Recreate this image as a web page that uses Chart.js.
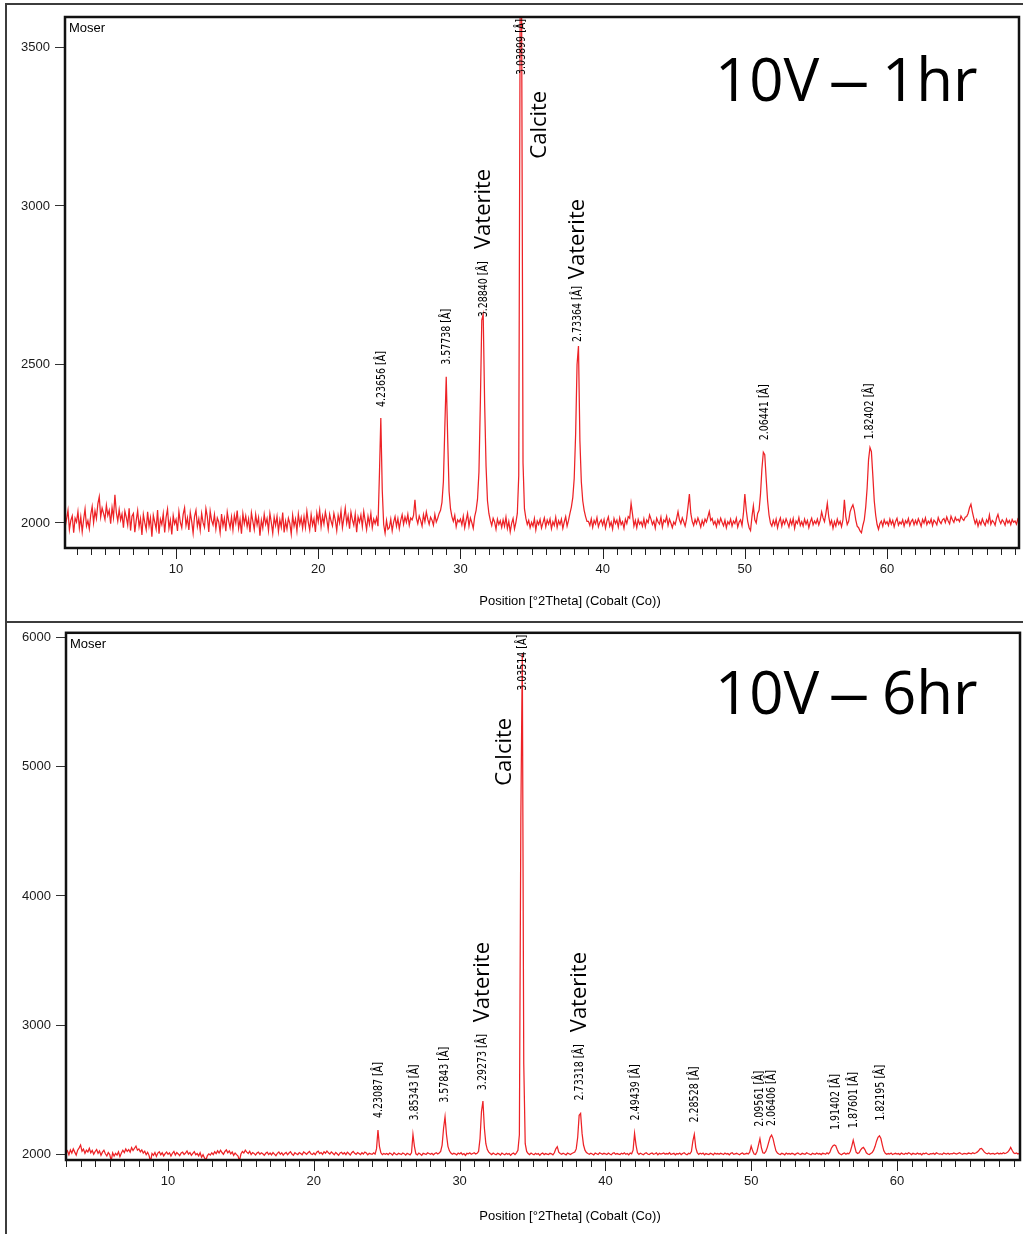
<!DOCTYPE html>
<html>
<head>
<meta charset="utf-8">
<script src="https://cdn.jsdelivr.net/npm/chart.js@4.4.1/dist/chart.umd.min.js"></script>
<style>
html,body{margin:0;padding:0;background:#fff;}
body{width:1023px;height:1234px;position:relative;overflow:hidden;}
.frame{position:absolute;background:#3c3c3c;}
canvas{position:absolute;left:0;}
#c1{top:0;}
#c2{top:620px;}
</style>
</head>
<body>
<div class="frame" style="left:5px;top:3px;width:1018px;height:2px"></div>
<div class="frame" style="left:5px;top:621px;width:1018px;height:2px"></div>
<div class="frame" style="left:5px;top:3px;width:2px;height:1231px"></div>
<canvas id="c1" width="1023" height="620"></canvas>
<canvas id="c2" width="1023" height="614"></canvas>
<script>
// ---------------- DATA ----------------
const scanStep = 0.1;            // step of the scan, degrees 2Theta

// 10V - 1hr : counts from 2.0 deg 2Theta, one row per degree
const start1h = 2.0;
const counts1h = [
1998,2031,1987,2012,2040,1979,2008,2022,1969,2015, // 2
2003,2036,1984,2019,1972,2011,2044,1990,2007,1981, // 3
2026,2052,2001,2038,2014,2060,2083,2019,2047,2030, // 4
2011,2056,2024,2040,1998,2049,2017,2089,2033,2006, // 5
2042,2009,2028,1985,2037,2018,1993,2046,1976,2021, // 6
2030,1971,2008,2039,1988,2014,1962,2027,2001,1979, // 7
2035,1990,2016,1957,2024,2003,1981,2041,1966,2012, // 8
1995,2029,1970,2018,2044,1983,2009,1964,2023,1997, // 9
2011,1975,2036,2002,1985,2027,2048,1992,2016,1978, // 10
2033,2005,1968,2021,2040,1989,2013,1977,2030,2001, // 11
1986,2045,2019,1972,2037,2008,1994,2026,1981,2016, // 12
2003,1969,2028,1991,2015,1974,2034,2006,1985,2019, // 13
1978,2024,2000,2039,1983,2011,1966,2029,1997,2022, // 14
1988,2013,1971,2032,2005,1979,2026,1994,2017,1960, // 15
2009,1984,2027,1996,2014,1976,2030,2001,1968,2018, // 16
1992,2021,1973,2010,1987,2033,1970,2006,1981,2015, // 17
1999,1965,2024,1990,2012,1975,2028,1995,2017,1983, // 18
2020,1986,2037,2002,1978,2026,1993,2013,1972,2031, // 19
2004,2040,1988,2022,1997,2035,2011,1980,2027,2006, // 20
1991,2030,2009,1976,2024,2001,2038,1985,2015,2047, // 21
1999,2023,1982,2034,2010,1993,2028,1971,2019,2002, // 22
2025,1988,2036,2007,1979,2021,1996,2030,1985,2012, // 23
1998,2017,1990,2150,2331,2105,1995,1968,2008,1980, // 24
1985,2012,1975,2003,2020,1990,2014,1982,2008,2026, // 25
1996,2019,2002,2027,1993,2016,2010,2024,2073,2015, // 26
1998,2022,2008,1990,2026,2004,2035,2012,1996,2018, // 27
2009,1993,2027,2003,2015,2030,2040,2065,2130,2300, // 28
2461,2270,2100,2045,2020,2005,2024,1988,2010,2003, // 29
2012,1994,2021,1985,2008,2030,1990,2016,2001,1983, // 30
2020,2040,2075,2160,2380,2640,2658,2380,2180,2070, // 31
2030,2008,1992,2015,2003,1980,2012,1995,2007,1986, // 32
2010,1990,2018,1983,2005,1972,1999,2014,1981,2002, // 33
2030,2150,3640,3640,2190,2045,2015,1995,2008,1985, // 34
2002,1990,2014,1978,2006,1995,2011,1984,2000,2016, // 35
1988,2009,1996,2013,1982,2004,1992,2018,1986,2007, // 36
1995,2012,1983,2003,2020,1990,2008,2030,2050,2080, // 37
2140,2280,2500,2558,2260,2130,2070,2040,2020,2005, // 38
2005,1992,2013,1986,2008,1997,2017,1988,2002,2010, // 39
1993,2011,1984,2006,2019,1990,2003,1981,2014,1998, // 40
2009,1987,2016,1995,2004,1983,2012,1998,2020,2015, // 41
2062,2028,1990,2008,1985,2011,1996,2004,1990,2013, // 42
1988,2009,2001,2025,2012,1995,2006,1984,2015,2003, // 43
1996,2018,1987,2009,2003,2021,1992,2012,2000,1985, // 44
2003,1995,2014,2036,2010,1998,2016,2004,1990,2012, // 45
2050,2091,2030,2005,1992,2011,1998,2016,2003,1987, // 46
2008,1994,2012,2003,2019,2036,2008,2014,1996,2005, // 47
1988,2010,1997,2015,2002,1991,2009,1985,2004,1996, // 48
2012,1990,2006,1998,2015,1987,2003,2010,1992,2030, // 49
2091,2040,2005,1985,1976,2020,2054,2010,2000,2030, // 50
2040,2090,2170,2223,2215,2140,2070,2025,2000,1990, // 51
2008,1993,2012,1985,2004,2016,1990,2009,1997,2013, // 52
2001,1987,2010,1995,2014,1983,2006,1998,2017,1992, // 53
2004,1990,2012,1996,2008,1985,2003,2015,1994,2006, // 54
1998,2012,1994,2008,2035,2016,2004,2030,2062,2020, // 55
1995,2008,1983,2004,1990,2012,1996,2005,1988,2010, // 56
2073,2020,1995,2005,2035,2048,2057,2040,2010,1990, // 57
1985,1975,1969,1992,2010,2050,2110,2200,2238,2225, // 58
2150,2070,2025,1995,1980,1998,2006,1990,2010,1997, // 59
2004,1992,2012,1996,2008,1988,2005,2015,1993,2003, // 60
1997,2010,1990,2007,1999,2014,1992,2005,2011,1994, // 61
2008,1996,2013,2002,1989,2011,2000,2016,1995,2006, // 62
1999,2012,1992,2009,2003,1994,2017,2005,1998,2010, // 63
2014,2001,2019,2006,1997,2021,2010,2002,2018,2008, // 64
2012,2004,2022,2013,2008,2018,2020,2030,2048,2059, // 65
2035,2015,1998,2010,1990,2006,1995,2013,2001,1992, // 66
2010,2000,2025,1996,2008,2003,1993,2015,2027,2008, // 67
1998,2010,2004,1993,2012,2000,2008,1995,2011,2002, // 68
2006,1996,2012,2004,2009                            // 69
];

// 10V - 6hr : counts from 3.0 deg 2Theta, one row per degree
const start6h = 3.0;
const counts6h = [
2010,2025,1995,2032,2008,2040,2015,1992,2030,2048, // 3
2070,2022,2038,2005,2030,2016,2045,2010,2028,1998, // 4
2020,2035,2006,2024,1990,2015,2030,2002,1985,2012, // 5
1996,1948,2010,1985,2005,1992,2018,1980,2008,2030, // 6
2012,2040,2020,2035,2015,2050,2028,2045,2062,2030, // 7
2040,2018,2032,2008,2022,1995,2014,1988,1941,2005, // 8
1990,2012,1982,2008,2018,1995,2010,1986,2004,2016, // 9
1998,2010,1985,2006,2020,1992,2012,2001,1988,2008, // 10
2015,1996,2008,2024,2000,2012,1990,2005,2018,1994, // 11
2004,1986,2010,1975,1995,1970,1954,1988,2002,1992, // 12
2010,1996,2018,2004,2025,2008,2030,2012,1998,2020, // 13
2032,2010,2024,2002,2016,1990,2008,1996,1985,1948, // 14
2000,2020,2008,2030,2015,2004,2022,1996,2012,2005, // 15
1992,2008,2015,1998,2010,2002,1990,2006,2014,1996, // 16
2008,1994,2012,2000,1988,2006,2016,1998,2010,1992, // 17
2005,2013,1995,2008,2018,2000,1990,2010,2002,1996, // 18
2012,2004,1994,2016,2008,1998,2010,2020,2002,1996, // 19
2008,1995,2014,2022,2004,2012,1998,2018,2006,2024, // 20
2010,2000,2016,2006,1994,2012,2002,1990,2008,2014, // 21
2000,2010,1996,2015,2004,1992,2010,2020,2006,1998, // 22
2012,2004,1996,2010,2000,2016,2008,1994,2006,2002, // 23
1998,2010,2000,2040,2186,2060,2010,1995,2004,1998, // 24
2005,1996,2008,2002,1992,2010,2000,1994,2006,2002, // 25
1996,2008,2003,1992,2006,2000,1994,2010,2152,2060, // 26
2002,1994,2008,2000,1990,2006,2002,1996,2010,2004, // 27
1998,2006,1994,2004,2010,2000,2008,2020,2070,2200, // 28
2289,2150,2060,2025,2008,1998,2006,2002,1994,2008, // 29
2000,2010,1996,2004,1990,2006,2002,2010,1998,2004, // 30
2010,2000,2006,2020,2120,2330,2410,2200,2080,2035, // 31
2015,2004,1996,2008,2000,1994,2006,2002,1992,2008, // 32
2000,1994,2006,1998,2004,1990,2002,2008,1996,2010, // 33
2030,2150,4600,5880,2700,2080,2020,2004,1996,2008, // 34
2000,1994,2006,1998,2004,1990,2002,2008,1996,2004, // 35
2000,1996,2006,2002,1994,2010,2040,2057,2015,2004, // 36
1998,2006,2000,1994,2008,2002,1996,2004,2010,2015, // 37
2040,2130,2300,2315,2160,2070,2030,2012,2004,1998, // 38
2006,2000,1994,2008,2002,1996,2010,2004,1998,2006, // 39
2002,1996,2008,2000,1994,2006,2010,1998,2004,2000, // 40
1996,2006,2000,2010,1998,2004,1994,2008,2002,2030, // 41
2160,2070,2010,1998,2006,2000,1994,2004,2010,2000, // 42
1996,2004,2008,1998,2002,2010,1994,2006,2000,2004, // 43
2008,1998,2004,2000,2010,1996,2002,2006,1994,2004, // 44
2000,2008,1996,2004,2010,2000,1994,2006,2002,2020, // 45
2100,2152,2050,2010,1998,2006,2000,2008,1994,2004, // 46
2000,1996,2006,2002,1994,2008,2000,2004,1998,2006, // 47
2002,1996,2008,2000,2004,1994,2006,2010,1998,2002, // 48
2006,2000,1994,2004,2008,1998,2002,2006,2000,2015, // 49
2062,2025,2000,1996,2020,2070,2119,2050,2010,2006, // 50
2020,2050,2090,2130,2147,2120,2070,2025,2008,2000, // 51
1996,2006,2002,1994,2008,2000,2004,1998,2006,2002, // 52
1994,2004,2008,2000,1996,2006,2002,1998,2010,2004, // 53
2000,1994,2006,2002,1998,2008,2000,2004,1996,2006, // 54
2004,1998,2010,2002,2015,2045,2062,2070,2065,2035, // 55
2010,2000,1994,2004,2008,1998,2006,2002,2020,2060, // 56
2108,2060,2015,2004,2010,2030,2045,2052,2035,2010, // 57
2000,1996,2004,2012,2030,2060,2100,2130,2142,2120, // 58
2070,2025,2006,1998,2004,2000,2008,1996,2002,2006, // 59
2000,2004,1996,2008,2002,1998,2006,2000,2010,2004, // 60
1996,2006,2002,1998,2008,2000,2004,1994,2006,2002, // 61
2008,2000,1996,2004,2002,2006,1998,2010,2004,2000, // 62
2002,1996,2008,2004,2000,2006,1998,2004,2002,2008, // 63
2004,2000,2006,2010,2002,1998,2006,2004,2000,2008, // 64
2006,2002,2010,2004,2008,2015,2025,2040,2044,2030, // 65
2015,2006,2002,2008,2000,2004,2006,1998,2004,2008, // 66
2000,2006,2002,2010,2004,2008,2015,2030,2052,2030, // 67
2010,2004,2008,2000,2006,2002                       // 68
];

// Peak markers (2Theta position and d-spacing label)
const peaks1hTheta = [24.38, 28.96, 31.57, 34.24, 38.20, 51.35, 58.73];
const peaks1hD = ['4.23656', '3.57738', '3.28840', '3.03899', '2.73364', '2.06441', '1.82402'];
const peaks6hTheta = [24.41, 26.85, 28.95, 31.53, 34.28, 38.21, 42.03, 46.09, 50.54, 51.36, 55.73, 56.95, 58.81];
const peaks6hD = ['4.23087', '3.85343', '3.57843', '3.29273', '3.03514', '2.73318', '2.49439', '2.28528', '2.09561', '2.06406', '1.91402', '1.87601', '1.82195'];

// Phase names and where they are written (2Theta, counts at the start of the text)
const phases1hName = ['Vaterite', 'Calcite', 'Vaterite'];
const phases1hTheta = [31.66, 35.60, 38.27];
const phases1hCounts = [2864, 3149, 2769];
const phases6hName = ['Calcite', 'Vaterite', 'Vaterite'];
const phases6hTheta = [33.11, 31.60, 38.26];
const phases6hCounts = [4854, 3021, 2944];

// Axis ticks
const xMajorTicks = [10, 20, 30, 40, 50, 60];
const yTicks1h = [2000, 2500, 3000, 3500];
const yTicks6h = [2000, 3000, 4000, 5000, 6000];

const panelTitle1h = '10V \u2013 1hr';
const panelTitle6h = '10V \u2013 6hr';
const sampleName = 'Moser';
const xAxisTitle = 'Position [\u00B02Theta] (Cobalt (Co))';

// ---------------- DRAWING ----------------
const SANS = '"Liberation Sans", Arial, sans-serif';
const TRACE = 'rgb(237,34,38)';

// label gap (px) between each peak top and its d-spacing label
const labelGap1h = [11, 12, -3, 12, 4, 12, 8];
const labelGap6h = [12, 14, 14, 11, 12, 13, 13, 12, 12, 9, 15, 12, 15];

function buildSeries(start, counts) {
  return counts.map((c, i) => ({ x: Math.round((start + i * scanStep) * 100) / 100, y: c }));
}

const decorPlugin = {
  id: 'decor',
  afterDatasetsDraw(chart, args, o) {
    const { ctx, chartArea: a, scales: { x, y } } = chart;
    const pts = chart.data.datasets[0].data;
    ctx.save();
    // x-axis tick marks (major and minor)
    ctx.strokeStyle = '#222';
    ctx.lineWidth = 1;
    for (let v = Math.ceil(x.min); v <= Math.floor(x.max); v++) {
      const px = Math.round(x.getPixelForValue(v)) + 0.5;
      const len = xMajorTicks.includes(v) ? 11 : 7;
      ctx.beginPath(); ctx.moveTo(px, a.bottom); ctx.lineTo(px, a.bottom + len); ctx.stroke();
    }
    // plot frame
    ctx.lineWidth = 2.5;
    ctx.strokeStyle = '#111';
    ctx.strokeRect(a.left, a.top, a.right - a.left, a.bottom - a.top);

    ctx.fillStyle = '#000';
    // sample name
    ctx.font = '13px ' + SANS;
    ctx.textAlign = 'left'; ctx.textBaseline = 'alphabetic';
    ctx.fillText(sampleName, a.left + 4, a.top + 15);
    // x axis title
    ctx.textAlign = 'center';
    ctx.fillText(xAxisTitle, o.titleX, a.bottom + o.titleDy);
    // big panel title: "10V", dash, "1hr"
    ctx.font = '60px "Open Sans", "Noto Sans", sans-serif';
    const parts = o.bigTitle.split(' ');
    const by = a.top + o.bigTitleDy;
    ctx.textAlign = 'left';
    ctx.fillText(parts[0], o.bigTitleX, by);
    ctx.save();
    ctx.translate(o.bigTitleX + 134, by);
    ctx.scale(1.4, 1);
    ctx.textAlign = 'center';
    ctx.fillText(parts[1], 0, 0);
    ctx.restore();
    ctx.fillText(parts[2], o.bigTitleX + 167, by);

    // peak d-spacing labels
    ctx.font = '12px "Liberation Sans Narrow", "DejaVu Sans Condensed", "Arial Narrow", sans-serif';
    const ref = ctx.measureText('4.23656 [\u00C5]').width;
    const squeeze = Math.min(1, 56 / ref);
    o.peakTheta.forEach((t, i) => {
      let top = -Infinity;
      pts.forEach(p => { if (Math.abs(p.x - t) <= 0.151 && p.y > top) top = p.y; });
      const txt = o.peakD[i] + ' [\u00C5]';
      const w = ctx.measureText(txt).width * squeeze;
      const px = x.getPixelForValue(t) + 1;
      const start = Math.max(y.getPixelForValue(top) - o.labelGap[i], a.top + 2 + w);
      ctx.save();
      ctx.translate(px, start);
      ctx.rotate(-Math.PI / 2);
      ctx.scale(squeeze, 1);
      ctx.textAlign = 'left'; ctx.textBaseline = 'middle';
      ctx.fillText(txt, 0, 0);
      ctx.restore();
    });

    // phase names
    ctx.font = '22px "Open Sans", "Noto Sans", sans-serif';
    o.phaseName.forEach((n, i) => {
      ctx.save();
      ctx.translate(x.getPixelForValue(o.phaseTheta[i]), y.getPixelForValue(o.phaseCounts[i]));
      ctx.rotate(-Math.PI / 2);
      ctx.textAlign = 'left'; ctx.textBaseline = 'middle';
      ctx.fillText(n, 0, 0);
      ctx.restore();
    });
    ctx.restore();
  }
};

function makePanel(id, p) {
  return new Chart(document.getElementById(id), {
    type: 'line',
    data: { datasets: [{ data: buildSeries(p.start, p.counts), borderColor: TRACE, borderWidth: 1.25,
      pointRadius: 0, tension: 0, fill: false }] },
    plugins: [decorPlugin],
    options: {
      responsive: false, animation: false, devicePixelRatio: 1,
      parsing: false, normalized: true,
      layout: { padding: { top: p.padTop, right: p.padRight, left: 0, bottom: 0 } },
      plugins: {
        legend: { display: false }, tooltip: { enabled: false },
        decor: { titleX: 570, titleDy: p.titleDy, bigTitle: p.bigTitle, bigTitleX: 715, bigTitleDy: p.bigTitleDy,
          peakTheta: p.peakTheta, peakD: p.peakD, labelGap: p.labelGap,
          phaseName: p.phaseName, phaseTheta: p.phaseTheta, phaseCounts: p.phaseCounts }
      },
      scales: {
        x: {
          type: 'linear', min: p.xMin, max: p.xMax,
          afterBuildTicks: s => { s.ticks = xMajorTicks.map(v => ({ value: v })); },
          afterFit: s => { s.height = p.xHeight; },
          grid: { display: false, drawTicks: true, tickLength: 11 },
          border: { display: false },
          ticks: { autoSkip: false, maxRotation: 0, padding: 3, color: '#1a1a1a',
            font: { family: SANS, size: 13 }, callback: v => String(v) }
        },
        y: {
          type: 'linear', min: p.yMin, max: p.yMax,
          afterBuildTicks: s => { s.ticks = p.yTicks.map(v => ({ value: v })); },
          afterFit: s => { s.width = p.yWidth; },
          grid: { display: true, drawOnChartArea: false, drawTicks: true, tickLength: 10, tickColor: '#333', lineWidth: 1 },
          border: { display: false },
          ticks: { padding: 5, color: '#1a1a1a', font: { family: SANS, size: 13 }, callback: v => String(v) }
        }
      }
    }
  });
}

makePanel('c1', {
  start: start1h, counts: counts1h, padTop: 17, padRight: 4, yWidth: 65, xHeight: 72,
  xMin: 2.19, xMax: 69.28, yMin: 1921, yMax: 3596, yTicks: yTicks1h,
  titleDy: 57, bigTitle: panelTitle1h, bigTitleDy: 84,
  peakTheta: peaks1hTheta, peakD: peaks1hD, labelGap: labelGap1h,
  phaseName: phases1hName, phaseTheta: phases1hTheta, phaseCounts: phases1hCounts
});
makePanel('c2', {
  start: start6h, counts: counts6h, padTop: 12, padRight: 3, yWidth: 66, xHeight: 74,
  xMin: 3.0, xMax: 68.44, yMin: 1954, yMax: 6039, yTicks: yTicks6h,
  titleDy: 60, bigTitle: panelTitle6h, bigTitleDy: 81,
  peakTheta: peaks6hTheta, peakD: peaks6hD, labelGap: labelGap6h,
  phaseName: phases6hName, phaseTheta: phases6hTheta, phaseCounts: phases6hCounts
});
</script>
</body>
</html>
